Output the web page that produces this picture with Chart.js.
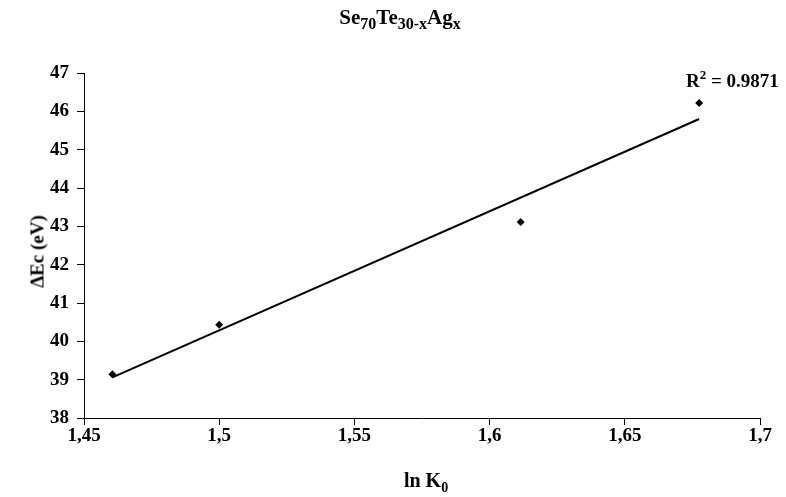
<!DOCTYPE html>
<html>
<head>
<meta charset="utf-8">
<script src="https://cdn.jsdelivr.net/npm/chart.js@4.4.1/dist/chart.umd.min.js"></script>
<style>
    html, body { margin: 0; padding: 0; background: #fff; }
    #wrap { position: relative; width: 786px; height: 497px; font-family: "Liberation Serif", "Times New Roman", serif; font-weight: bold; color: #000; }
    #chart { position: absolute; left: 0; top: 0; }
    .lbl { position: absolute; white-space: nowrap; font-size: 19px; line-height: 1; }
    .lbl sub { font-size: 14px; vertical-align: -5px; }
    .lbl sup { font-size: 13px; vertical-align: 8px; }
    #title { font-size: 21px; }
    #title sub { font-size: 16px; vertical-align: -5px; }
    #xtitle { font-size: 20px; }
</style>
</head>
<body>
<div id="wrap">
    <canvas id="chart" width="786" height="497"></canvas>
    <div class="lbl" id="title" style="left:0; width:786px; top:7px; text-align:center; padding-left:14px; box-sizing:border-box;">Se<sub>70</sub>Te<sub>30-x</sub>Ag<sub>x</sub></div>
    <div class="lbl" id="r2" style="left:686px; top:68px;">R<sup>2</sup> = 0.9871</div>
    <div class="lbl" id="xtitle" style="left:0; width:786px; top:470px; text-align:center; padding-left:66px; box-sizing:border-box;">ln K<sub>0</sub></div>
    <div class="lbl" id="ytitle" style="left:-13px; top:242px; width:100px; text-align:center; transform:rotate(-90deg);">&Delta;Ec (eV)</div>
</div>
<script>
const lnK0 = [1.4605, 1.5, 1.6115, 1.6775];
const deltaEc = [39.14, 40.43, 43.11, 46.22];
const xTicks = [1.45, 1.5, 1.55, 1.6, 1.65, 1.7];
const yTicks = [38, 39, 40, 41, 42, 43, 44, 45, 46, 47];

// linear trendline (least squares) over the data range
function trend(xs, ys) {
    const n = xs.length;
    const mx = xs.reduce((a, b) => a + b, 0) / n;
    const my = ys.reduce((a, b) => a + b, 0) / n;
    let sxy = 0, sxx = 0;
    for (let i = 0; i < n; i++) {
        sxy += (xs[i] - mx) * (ys[i] - my);
        sxx += (xs[i] - mx) * (xs[i] - mx);
    }
    const k = sxy / sxx;
    const x0 = Math.min(...xs), x1 = Math.max(...xs);
    return [{ x: x0, y: my + k * (x0 - mx) }, { x: x1, y: my + k * (x1 - mx) }];
}

const tickFont = { family: '"Liberation Serif", "Times New Roman", serif', size: 19, weight: 'bold' };

new Chart(document.getElementById('chart'), {
    type: 'scatter',
    data: {
        datasets: [
            {
                data: lnK0.map((x, i) => ({ x: x, y: deltaEc[i] })),
                pointStyle: 'rectRot',
                pointRadius: 4,
                backgroundColor: '#000',
                borderColor: '#000',
                borderWidth: 0
            },
            {
                type: 'line',
                data: trend(lnK0, deltaEc),
                borderColor: '#000',
                borderWidth: 2,
                pointRadius: 0,
                fill: false
            }
        ]
    },
    options: {
        responsive: false,
        animation: false,
        layout: { padding: { top: 73, right: 26, left: 0, bottom: 0 } },
        plugins: { legend: { display: false }, tooltip: { enabled: false } },
        scales: {
            x: {
                type: 'linear',
                min: 1.45,
                max: 1.7,
                afterFit: s => { s.height = 79; },
                afterBuildTicks: s => { s.ticks = xTicks.map(v => ({ value: v })); },
                border: { color: '#000', width: 1 },
                grid: { drawOnChartArea: false, color: '#000', tickLength: 7 },
                ticks: {
                    color: '#000',
                    font: tickFont,
                    padding: 0,
                    maxRotation: 0,
                    callback: v => String(Number(v.toFixed(2))).replace('.', ',')
                }
            },
            y: {
                min: 38,
                max: 47,
                afterFit: s => { s.width = 84; },
                afterBuildTicks: s => { s.ticks = yTicks.map(v => ({ value: v })); },
                border: { color: '#000', width: 1 },
                grid: { drawOnChartArea: false, color: '#000', tickLength: 7 },
                ticks: { color: '#000', font: tickFont, padding: 8 }
            }
        }
    }
});
</script>
</body>
</html>
